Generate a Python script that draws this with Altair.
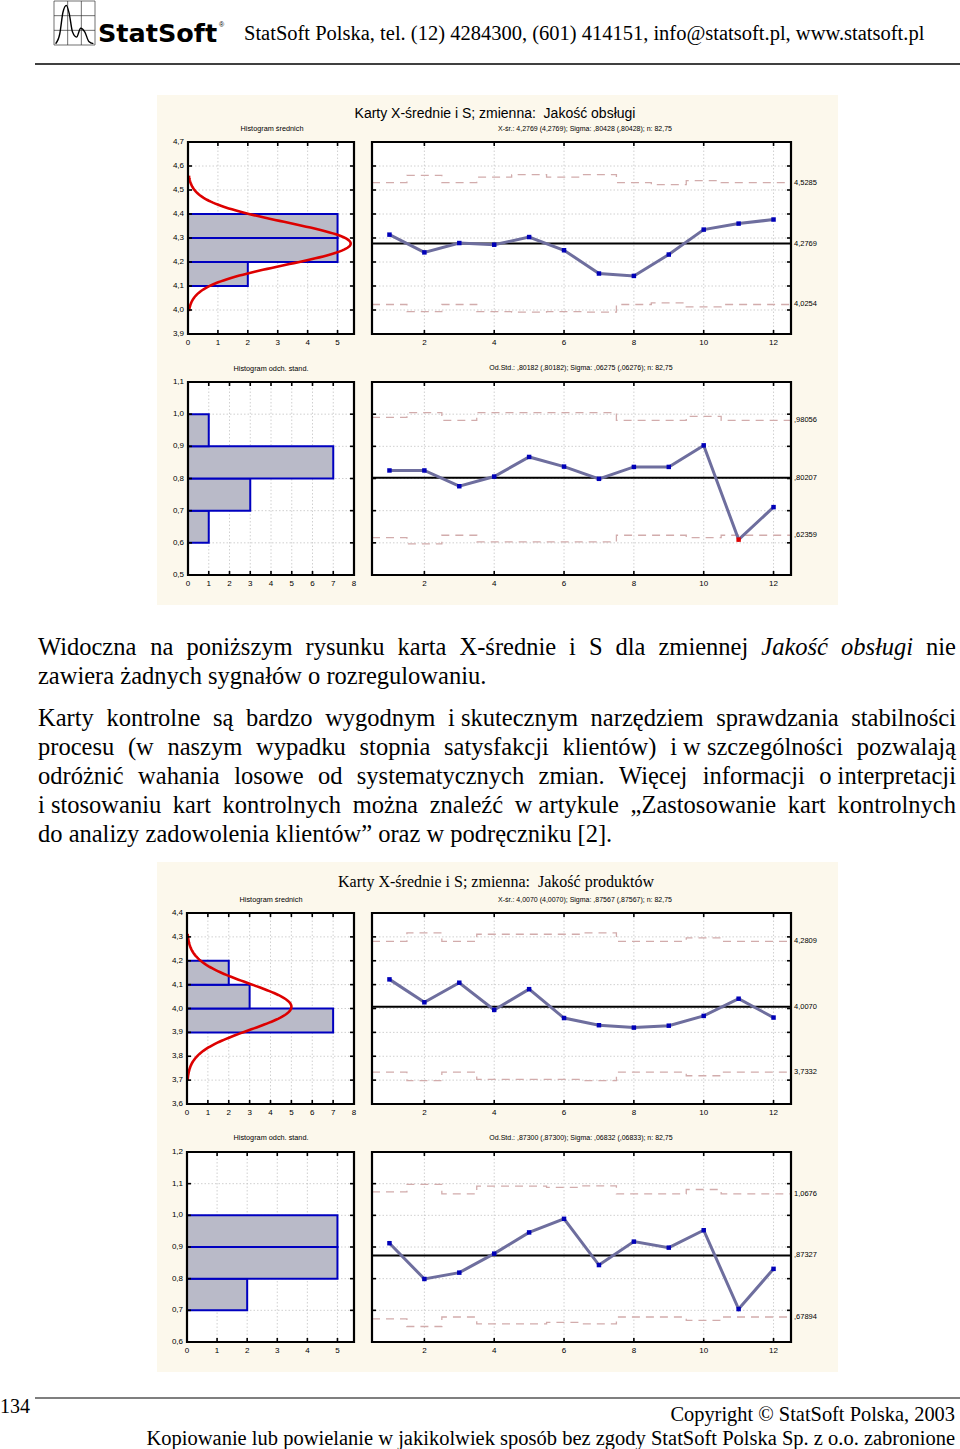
import altair as alt
import pandas as pd

# ---------------- chart data ----------------
SAMPLES = [1, 2, 3, 4, 5, 6, 7, 8, 9, 10, 11, 12]

# Chart 1: Jakość obsługi
obs_mean_center = 4.2769
obs_mean_values = [4.314, 4.240, 4.279, 4.272, 4.304, 4.249, 4.152, 4.142, 4.231, 4.335, 4.360, 4.377]
obs_mean_ucl = [4.531, 4.561, 4.531, 4.554, 4.564, 4.554, 4.564, 4.531, 4.522, 4.539, 4.531, 4.531]
obs_mean_lcl = [4.023, 3.993, 4.023, 3.993, 3.991, 3.993, 3.991, 4.023, 4.030, 4.013, 4.023, 4.023]
obs_sd_center = 0.80207
obs_sd_values = [0.825, 0.825, 0.776, 0.806, 0.867, 0.837, 0.799, 0.836, 0.836, 0.903, 0.610, 0.711]
obs_sd_alarm = [0, 0, 0, 0, 0, 0, 0, 0, 0, 0, 1, 0]
obs_sd_ucl = [0.990, 1.005, 0.9806, 1.005, 1.005, 1.005, 1.005, 0.9806, 0.9806, 0.993, 0.9806, 0.9806]
obs_sd_lcl = [0.616, 0.597, 0.6236, 0.603, 0.603, 0.603, 0.603, 0.6236, 0.6236, 0.616, 0.6236, 0.6236]

obs_mean_hist_lo = [4.1, 4.2, 4.3]
obs_mean_hist_hi = [4.2, 4.3, 4.4]
obs_mean_hist_n = [2, 5, 5]
obs_sd_hist_lo = [0.6, 0.7, 0.8, 0.9]
obs_sd_hist_hi = [0.7, 0.8, 0.9, 1.0]
obs_sd_hist_n = [1, 3, 7, 1]
obs_normal = {"mean": 4.2769, "sd": 0.088, "n": 12, "bin": 0.1}

# Chart 2: Jakość produktów
prod_mean_center = 4.0070
prod_mean_values = [4.122, 4.026, 4.108, 3.994, 4.081, 3.960, 3.930, 3.920, 3.928, 3.969, 4.041, 3.962]
prod_mean_ucl = [4.2809, 4.3165, 4.2809, 4.311, 4.311, 4.311, 4.3165, 4.2809, 4.2809, 4.2956, 4.2809, 4.2809]
prod_mean_lcl = [3.7332, 3.6975, 3.7332, 3.703, 3.703, 3.703, 3.6975, 3.7332, 3.7332, 3.7184, 3.7332, 3.7332]
prod_sd_center = 0.87327
prod_sd_values = [0.912, 0.799, 0.819, 0.879, 0.946, 0.989, 0.843, 0.917, 0.898, 0.953, 0.704, 0.831]
prod_sd_ucl = [1.074, 1.098, 1.0676, 1.092, 1.092, 1.088, 1.093, 1.0676, 1.0676, 1.0816, 1.0676, 1.0676]
prod_sd_lcl = [0.673, 0.649, 0.6789, 0.657, 0.657, 0.662, 0.657, 0.6789, 0.6789, 0.668, 0.6789, 0.6789]

prod_mean_hist_lo = [3.9, 4.0, 4.1]
prod_mean_hist_hi = [4.0, 4.1, 4.2]
prod_mean_hist_n = [7, 3, 2]
prod_sd_hist_lo = [0.7, 0.8, 0.9]
prod_sd_hist_hi = [0.8, 0.9, 1.0]
prod_sd_hist_n = [2, 5, 5]
prod_normal = {"mean": 4.0070, "sd": 0.0957, "n": 12, "bin": 0.1}

# control-limit labels at right of each control chart
obs_mean_ctrl = [4.5285, 4.2769, 4.0254]
obs_mean_ctrl_lab = ["4,5285", "4,2769", "4,0254"]
obs_sd_ctrl = [0.98056, 0.80207, 0.62359]
obs_sd_ctrl_lab = [",98056", ",80207", ",62359"]
prod_mean_ctrl = [4.2809, 4.0070, 3.7332]
prod_mean_ctrl_lab = ["4,2809", "4,0070", "3,7332"]
prod_sd_ctrl = [1.0676, 0.87327, 0.67894]
prod_sd_ctrl_lab = ["1,0676", ",87327", ",67894"]

# tick values and labels
ctrl_xticks = [2, 4, 6, 8, 10, 12]
ctrl_xlabels = ["2", "4", "6", "8", "10", "12"]
hist5_ticks = [0, 1, 2, 3, 4, 5]
hist5_labels = ["0", "1", "2", "3", "4", "5"]
hist8_ticks = [0, 1, 2, 3, 4, 5, 6, 7, 8]
hist8_labels = ["0", "1", "2", "3", "4", "5", "6", "7", "8"]
obs_mean_yticks = [3.9, 4.0, 4.1, 4.2, 4.3, 4.4, 4.5, 4.6, 4.7]
obs_mean_ylabels = ["3,9", "4,0", "4,1", "4,2", "4,3", "4,4", "4,5", "4,6", "4,7"]
obs_sd_yticks = [0.5, 0.6, 0.7, 0.8, 0.9, 1.0, 1.1]
obs_sd_ylabels = ["0,5", "0,6", "0,7", "0,8", "0,9", "1,0", "1,1"]
prod_mean_yticks = [3.6, 3.7, 3.8, 3.9, 4.0, 4.1, 4.2, 4.3, 4.4]
prod_mean_ylabels = ["3,6", "3,7", "3,8", "3,9", "4,0", "4,1", "4,2", "4,3", "4,4"]
prod_sd_yticks = [0.6, 0.7, 0.8, 0.9, 1.0, 1.1, 1.2]
prod_sd_ylabels = ["0,6", "0,7", "0,8", "0,9", "1,0", "1,1", "1,2"]

# ---------------- page texts ----------------
logo_word = "StatSoft"
header_text = "StatSoft Polska, tel. (12) 4284300, (601) 414151, info@statsoft.pl, www.statsoft.pl"
page_number = "134"
footer_copyright = "Copyright \u00a9 StatSoft Polska, 2003"
footer_notice = "Kopiowanie lub powielanie w jakikolwiek sposób bez zgody StatSoft Polska Sp. z o.o. zabronione"
chart1_title = "Karty X-średnie i S; zmienna:\u00a0 Jakość obsługi"
chart2_title = "Karty X-średnie i S; zmienna:\u00a0 Jakość produktów"
hist_mean_title = "Histogram średnich"
hist_sd_title = "Histogram odch. stand."
obs_mean_sub = "X-śr.: 4,2769 (4,2769); Sigma: ,80428 (,80428); n: 82,75"
obs_sd_sub = "Od.Std.: ,80182 (,80182); Sigma: ,06275 (,06276); n: 82,75"
prod_mean_sub = "X-śr.: 4,0070 (4,0070); Sigma: ,87567 (,87567); n: 82,75"
prod_sd_sub = "Od.Std.: ,87300 (,87300); Sigma: ,06832 (,06833); n: 82,75"
# "_" marks italic words, "~" a non-stretching space
paragraph_lines = [
    "Widoczna na poniższym rysunku karta X-średnie i S dla zmiennej _Jakość _obsługi nie",
    "zawiera żadnych sygnałów o rozregulowaniu.",
    "Karty kontrolne są bardzo wygodnym i~skutecznym narzędziem sprawdzania stabilności",
    "procesu (w naszym wypadku stopnia satysfakcji klientów) i~w~szczególności pozwalają",
    "odróżnić wahania losowe od systematycznych zmian. Więcej informacji o~interpretacji",
    "i~stosowaniu kart kontrolnych można znaleźć w~artykule „Zastosowanie kart kontrolnych",
    "do analizy zadowolenia klientów” oraz w podręczniku [2].",
]
paragraph_justify = [True, False, True, True, True, True, False]

logo_curve_x = [0.04, 0.14, 0.22, 0.30, 0.37, 0.45, 0.55, 0.65, 0.75, 0.85, 0.96]
logo_curve_y = [0.03, 0.25, 0.75, 0.90, 0.72, 0.30, 0.18, 0.38, 0.30, 0.08, 0.03]

# ---------------- layout / style ----------------
SERIF = "Liberation Serif"
SANS = "Liberation Sans"
PARA_FS = 24.5
PARA_LEFT, PARA_RIGHT = 38, 956
PARA_BASE = [655, 684, 726, 755, 784, 813, 842]

TIMES = {" ": 250, "!": 333, "(": 333, ")": 333, ",": 250, "-": 333, ".": 250, ":": 278, ";": 278,
         "[": 333, "]": 333, "„": 444, "”": 444, "@": 921,
         "A": 722, "B": 667, "C": 667, "D": 722, "E": 611, "F": 556, "G": 722, "H": 722, "I": 333,
         "J": 389, "K": 722, "L": 611, "M": 889, "N": 722, "O": 722, "P": 556, "Q": 722, "R": 667,
         "S": 556, "T": 611, "U": 722, "V": 722, "W": 944, "X": 722, "Y": 722, "Z": 611,
         "a": 444, "b": 500, "c": 444, "d": 500, "e": 444, "f": 333, "g": 500, "h": 500, "i": 278,
         "j": 278, "k": 500, "l": 278, "m": 778, "n": 500, "o": 500, "p": 500, "q": 500, "r": 333,
         "s": 389, "t": 278, "u": 500, "v": 500, "w": 722, "x": 500, "y": 500, "z": 444,
         "ą": 444, "ć": 444, "ę": 444, "ł": 278, "ń": 500, "ó": 500, "ś": 389, "ź": 444, "ż": 444}
TIMES_I = {"J": 444, "a": 500, "k": 444, "o": 500, "ś": 389, "ć": 444, "b": 500, "s": 389,
           "ł": 278, "u": 500, "g": 500, "i": 278, " ": 250}


def text_w(t, italic=False):
    tot = 0
    for ch in t:
        if italic and ch in TIMES_I:
            tot += TIMES_I[ch]
        else:
            tot += TIMES.get(ch, 500)
    return tot / 1000.0 * PARA_FS


CREAM = "#FCF8EC"
BAR_FILL = "#B9BAC8"
BAR_STROKE = "#0000C0"
CURVE = "#DD0000"
LINE = "#6E6E9E"
POINT = "#0000B8"
LIMIT = "#D2ACAC"
GRID = dict(color="#C4C4C4", strokeWidth=0.8, strokeDash=[1.5, 2])

L = []


def scale(dom, rng):
    return alt.Scale(domain=list(dom), range=list(rng), nice=False, zero=False)


class Panel:
    def __init__(self, xd, xr, yd, yr):
        self.xd, self.xr, self.yd, self.yr = xd, xr, yd, yr

    def x(self, f):
        return alt.X(f + ":Q", scale=scale(self.xd, self.xr), axis=None)

    def y(self, f):
        return alt.Y(f + ":Q", scale=scale(self.yd, self.yr), axis=None)


def vtext(txt, x, y, size, font=SANS, align="center", baseline="alphabetic", weight="normal",
          style="normal", color="black"):
    return alt.Chart(pd.DataFrame({"t": [txt]})).mark_text(
        align=align, baseline=baseline, fontSize=size, font=font, fontWeight=weight,
        fontStyle=style, color=color).encode(x=alt.value(x), y=alt.value(y), text="t:N")


def panel_base(P, xgrid, ygrid):
    box = pd.DataFrame({"a": [P.xd[0]], "b": [P.xd[1]], "c": [P.yd[0]], "d": [P.yd[1]]})
    L.append(alt.Chart(box).mark_rect(fill="white").encode(
        x=P.x("a"), x2="b", y=P.y("c"), y2="d"))
    gx = pd.DataFrame({"v": xgrid, "lo": P.yd[0], "hi": P.yd[1]})
    L.append(alt.Chart(gx).mark_rule(**GRID).encode(x=P.x("v"), y=P.y("lo"), y2="hi"))
    gy = pd.DataFrame({"v": ygrid, "lo": P.xd[0], "hi": P.xd[1]})
    L.append(alt.Chart(gy).mark_rule(**GRID).encode(y=P.y("v"), x=P.x("lo"), x2="hi"))


def panel_frame(P, xt, xlab, yt, ylab=None):
    box = pd.DataFrame({"a": [P.xd[0]], "b": [P.xd[1]], "c": [P.yd[0]], "d": [P.yd[1]]})
    L.append(alt.Chart(box).mark_rect(filled=False, stroke="black", strokeWidth=2.2).encode(
        x=P.x("a"), x2="b", y=P.y("c"), y2="d"))
    xin = pd.DataFrame({"v": [t for t in xt if P.xd[0] < t < P.xd[1]]})
    yin = pd.DataFrame({"v": [t for t in yt if P.yd[0] < t < P.yd[1]]})
    tk = dict(color="black", strokeWidth=1.6)
    L.append(alt.Chart(xin).mark_rule(**tk).encode(
        x=P.x("v"), y=alt.value(P.yr[0]), y2=alt.value(P.yr[0] - 4)))
    L.append(alt.Chart(xin).mark_rule(**tk).encode(
        x=P.x("v"), y=alt.value(P.yr[1]), y2=alt.value(P.yr[1] + 4)))
    L.append(alt.Chart(yin).mark_rule(**tk).encode(
        y=P.y("v"), x=alt.value(P.xr[0]), x2=alt.value(P.xr[0] + 4)))
    L.append(alt.Chart(yin).mark_rule(**tk).encode(
        y=P.y("v"), x=alt.value(P.xr[1]), x2=alt.value(P.xr[1] - 4)))
    xl = pd.DataFrame({"v": xt, "lab": xlab})
    L.append(alt.Chart(xl).mark_text(fontSize=8, font=SANS, baseline="middle").encode(
        x=P.x("v"), y=alt.value(P.yr[0] + 9), text="lab:N"))
    if ylab is not None:
        yl = pd.DataFrame({"v": yt, "lab": ylab})
        L.append(alt.Chart(yl).mark_text(fontSize=8, font=SANS, align="right", baseline="middle").encode(
            y=P.y("v"), x=alt.value(P.xr[0] - 4), text="lab:N"))


def histogram(P, lo, hi, n, xt, xlab, yt, ylab, normal=None):
    panel_base(P, [t for t in xt if P.xd[0] < t < P.xd[1]], [t for t in yt if P.yd[0] < t < P.yd[1]])
    df = pd.DataFrame({"lo": lo, "hi": hi, "n": n, "zero": 0})
    L.append(alt.Chart(df).mark_rect(fill=BAR_FILL, stroke=BAR_STROKE, strokeWidth=2).encode(
        x=P.x("zero"), x2="n", y=P.y("lo"), y2="hi"))
    if normal is not None:
        m, s, cnt, bw = normal["mean"], normal["sd"], normal["n"], normal["bin"]
        expr = f"{cnt}*{bw}*exp(-0.5*pow((datum.v-{m})/{s},2))/({s}*sqrt(2*PI))"
        curve = alt.Chart(alt.sequence(m - 3.2 * s, m + 3.2 * s + 0.001, 0.004, as_="v")) \
            .transform_calculate(c=expr) \
            .mark_line(color=CURVE, strokeWidth=2.6) \
            .encode(x=P.x("c"), y=P.y("v"), order=alt.Order("v:Q"))
        L.append(curve)
    panel_frame(P, xt, xlab, yt, ylab)


def control(P, values, ucl, lcl, center, yt, ctrl, ctrl_lab, alarm=None):
    panel_base(P, ctrl_xticks, [t for t in yt if P.yd[0] < t < P.yd[1]])
    xs = [0.5] + SAMPLES + [12.5]
    for lim in (ucl, lcl):
        d = pd.DataFrame({"s": xs, "v": [lim[0]] + lim + [lim[-1]]})
        L.append(alt.Chart(d).mark_line(interpolate="step", color=LIMIT, strokeWidth=1.3,
                                        strokeDash=[8, 6]).encode(x=P.x("s"), y=P.y("v")))
    c = pd.DataFrame({"a": [0.5], "b": [12.5], "v": [center]})
    L.append(alt.Chart(c).mark_rule(color="black", strokeWidth=2).encode(x=P.x("a"), x2="b", y=P.y("v")))
    d = pd.DataFrame({"s": SAMPLES, "v": values, "al": alarm if alarm else [0] * 12})
    L.append(alt.Chart(d).mark_line(color=LINE, strokeWidth=3).encode(x=P.x("s"), y=P.y("v")))
    L.append(alt.Chart(d[d.al == 0]).mark_square(size=20, color=POINT, opacity=1).encode(
        x=P.x("s"), y=P.y("v")))
    if alarm:
        L.append(alt.Chart(d[d.al == 1]).mark_square(size=20, color="#E00000", opacity=1).encode(
            x=P.x("s"), y=P.y("v")))
    panel_frame(P, ctrl_xticks, ctrl_xlabels, yt, None)
    cl = pd.DataFrame({"v": ctrl, "lab": ctrl_lab})
    L.append(alt.Chart(cl).mark_text(fontSize=7.5, font=SANS, align="left", baseline="middle").encode(
        y=P.y("v"), x=alt.value(P.xr[1] + 3), text="lab:N"))


# ---------------- page decoration ----------------
for y0, y1 in ((95, 605), (862, 1372)):
    L.append(alt.Chart(pd.DataFrame({"a": [0]})).mark_rect(fill=CREAM).encode(
        x=alt.value(157), x2=alt.value(838), y=alt.value(y0), y2=alt.value(y1)))

# logo icon
LG = Panel((0, 1), (54, 95), (0, 1), (45, 1))
lg_lines = pd.DataFrame({"v": [0, 1 / 3, 2 / 3, 1], "lo": 0, "hi": 1})
L.append(alt.Chart(lg_lines).mark_rule(color="#333333", strokeWidth=0.7).encode(
    x=LG.x("v"), y=LG.y("lo"), y2="hi"))
L.append(alt.Chart(lg_lines).mark_rule(color="#333333", strokeWidth=0.7).encode(
    y=LG.y("v"), x=LG.x("lo"), x2="hi"))
L.append(alt.Chart(pd.DataFrame({"x": logo_curve_x, "y": logo_curve_y})).mark_line(
    color="black", strokeWidth=1.4, interpolate="monotone").encode(x=LG.x("x"), y=LG.y("y")))
L.append(vtext(logo_word, 98, 42, 25.5, font="DejaVu Sans", align="left", weight="bold"))
L.append(vtext("\u00ae", 219, 27, 7, font=SANS, align="left"))
L.append(vtext(header_text, 244, 40, 20.5, font=SERIF, align="left"))
L.append(alt.Chart(pd.DataFrame({"a": [0]})).mark_rule(color="black", strokeWidth=1.5).encode(
    x=alt.value(35), x2=alt.value(960), y=alt.value(64)))

# footer
L.append(alt.Chart(pd.DataFrame({"a": [0]})).mark_rule(color="black", strokeWidth=1.2).encode(
    x=alt.value(35), x2=alt.value(960), y=alt.value(1398)))
L.append(vtext(page_number, 0, 1413, 20, font=SERIF, align="left"))
L.append(vtext(footer_copyright, 955, 1421, 20.4, font=SERIF, align="right"))
L.append(vtext(footer_notice, 955, 1445, 20.5, font=SERIF, align="right"))

# paragraph text (justified word by word)
rows = []
for line, just, base in zip(paragraph_lines, paragraph_justify, PARA_BASE):
    items = []
    for tok in line.split(" "):
        it = tok.startswith("_")
        items.append((tok.lstrip("_").replace("~", " "), it))
    widths = [text_w(t, it) for t, it in items]
    if just and len(items) > 1:
        gap = (PARA_RIGHT - PARA_LEFT - sum(widths)) / (len(items) - 1)
    else:
        gap = 0.25 * PARA_FS
    x = PARA_LEFT
    for (t, it), w in zip(items, widths):
        rows.append({"word": t, "px": x, "py": base, "it": it})
        x += w + gap
words = pd.DataFrame(rows)
for it, style in ((False, "normal"), (True, "italic")):
    L.append(alt.Chart(words[words.it == it]).mark_text(
        align="left", baseline="alphabetic", fontSize=PARA_FS, font=SERIF, fontStyle=style).encode(
        x=alt.X("px:Q", scale=None, axis=None), y=alt.Y("py:Q", scale=None, axis=None), text="word:N"))

# ---------------- chart 1 ----------------
L.append(vtext(chart1_title, 495, 118, 14, font=SANS))
L.append(vtext(hist_mean_title, 272, 131, 7.3))
L.append(vtext(obs_mean_sub, 585, 131, 7))
L.append(vtext(hist_sd_title, 271, 371, 7.3))
L.append(vtext(obs_sd_sub, 581, 370, 7))

P1h = Panel((0, 5.55), (188, 354), (3.9, 4.7), (334, 142))
P1c = Panel((0.5, 12.5), (372, 791), (3.9, 4.7), (334, 142))
P2h = Panel((0, 8), (188, 354), (0.5, 1.1), (575, 382))
P2c = Panel((0.5, 12.5), (372, 791), (0.5, 1.1), (575, 382))
histogram(P1h, obs_mean_hist_lo, obs_mean_hist_hi, obs_mean_hist_n, hist5_ticks, hist5_labels,
          obs_mean_yticks, obs_mean_ylabels, obs_normal)
control(P1c, obs_mean_values, obs_mean_ucl, obs_mean_lcl, obs_mean_center, obs_mean_yticks,
        obs_mean_ctrl, obs_mean_ctrl_lab)
histogram(P2h, obs_sd_hist_lo, obs_sd_hist_hi, obs_sd_hist_n, hist8_ticks, hist8_labels,
          obs_sd_yticks, obs_sd_ylabels)
control(P2c, obs_sd_values, obs_sd_ucl, obs_sd_lcl, obs_sd_center, obs_sd_yticks,
        obs_sd_ctrl, obs_sd_ctrl_lab, obs_sd_alarm)

# ---------------- chart 2 ----------------
L.append(vtext(chart2_title, 496, 887, 16, font=SERIF))
L.append(vtext(hist_mean_title, 271, 902, 7.3))
L.append(vtext(prod_mean_sub, 585, 902, 7))
L.append(vtext(hist_sd_title, 271, 1140, 7.3))
L.append(vtext(prod_sd_sub, 581, 1140, 7))

P3h = Panel((0, 8), (187, 354), (3.6, 4.4), (1104, 913))
P3c = Panel((0.5, 12.5), (372, 791), (3.6, 4.4), (1104, 913))
P4h = Panel((0, 5.55), (187, 354), (0.6, 1.2), (1342, 1152))
P4c = Panel((0.5, 12.5), (372, 791), (0.6, 1.2), (1342, 1152))
histogram(P3h, prod_mean_hist_lo, prod_mean_hist_hi, prod_mean_hist_n, hist8_ticks, hist8_labels,
          prod_mean_yticks, prod_mean_ylabels, prod_normal)
control(P3c, prod_mean_values, prod_mean_ucl, prod_mean_lcl, prod_mean_center, prod_mean_yticks,
        prod_mean_ctrl, prod_mean_ctrl_lab)
histogram(P4h, prod_sd_hist_lo, prod_sd_hist_hi, prod_sd_hist_n, hist5_ticks, hist5_labels,
          prod_sd_yticks, prod_sd_ylabels)
control(P4c, prod_sd_values, prod_sd_ucl, prod_sd_lcl, prod_sd_center, prod_sd_yticks,
        prod_sd_ctrl, prod_sd_ctrl_lab)

chart = alt.layer(*L).resolve_scale(x="independent", y="independent").properties(
    width=960, height=1449, padding=0, background="white",
    autosize=alt.AutoSizeParams(type="none"),
).configure_view(stroke=None)

chart.save("out.html", embed_options={"renderer": "svg", "actions": False})
